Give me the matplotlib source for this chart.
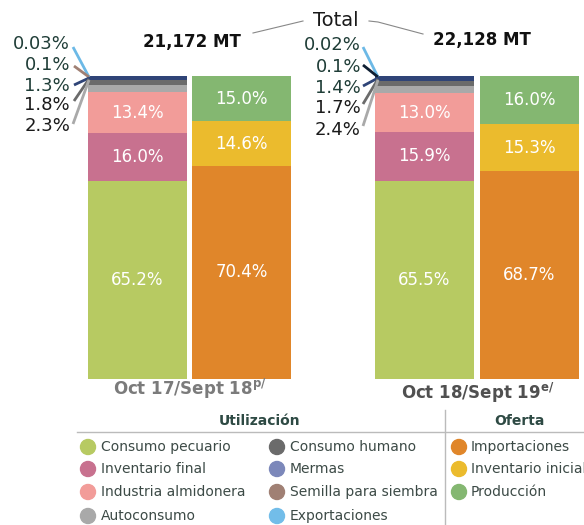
import matplotlib
matplotlib.use("Agg")
import matplotlib.pyplot as plt
from matplotlib.patches import Circle

plt.rcParams['font.family'] = ['DejaVu Sans']

# --- data -------------------------------------------------------------
periods = ["Oct 17/Sept 18", "Oct 18/Sept 19"]
period_marks = ["p/", "e/"]
totals = ["21,172 MT", "22,128 MT"]

use_names = ["Consumo pecuario", "Inventario final", "Industria almidonera",
             "Autoconsumo", "Consumo humano", "Mermas",
             "Semilla para siembra", "Exportaciones"]
use_1718 = [65.2, 16.0, 13.4, 2.3, 1.8, 1.3, 0.1, 0.03]
use_1819 = [65.5, 15.9, 13.0, 2.4, 1.7, 1.4, 0.1, 0.02]

supply_names = ["Importaciones", "Inventario inicial", "Producción"]
supply_1718 = [70.4, 14.6, 15.0]
supply_1819 = [68.7, 15.3, 16.0]

use_colors = ["#b7ca62", "#c8718f", "#f29c99", "#a9a9a9", "#6b6b6b",
              "#2f4477", "#a08074", "#6cb9e6"]
use_legend_colors = ["#b7ca62", "#c8718f", "#f29c99", "#a9a9a9", "#6b6b6b",
                     "#7c88ba", "#a08074", "#72bde9"]
supply_colors = ["#e0862a", "#ebbb2d", "#84b771"]

W, H = 584, 525
fig = plt.figure(figsize=(W / 100, H / 100), dpi=100)

# main axes: x in pixel units, y in percent; bars from y=379 (0%) to y=76 (100%)
y0_px, y1_px = 379, 76
ax = fig.add_axes([0, 1 - y0_px / H, 1, (y0_px - y1_px) / H])
ax.set_xlim(0, W)
ax.set_ylim(0, 100)
ax.axis("off")

bar_w = 99
use_x = [137.5, 424.5]
sup_x = [241.5, 529.5]

def pct(v):
    return f"{v:.1f}%"

for k, (uses, sups) in enumerate([(use_1718, supply_1718), (use_1819, supply_1819)]):
    bottom = 0
    for j, v in enumerate(uses):
        ax.bar(use_x[k], v, bottom=bottom, width=bar_w, color=use_colors[j],
               edgecolor="none")
        if j < 3:
            ax.text(use_x[k], bottom + v / 2, pct(v), ha="center", va="center",
                    color="white", fontsize=12)
        bottom += v
    bottom = 0
    for j, v in enumerate(sups):
        ax.bar(sup_x[k], v, bottom=bottom, width=bar_w, color=supply_colors[j],
               edgecolor="none")
        ax.text(sup_x[k], bottom + v / 2, pct(v), ha="center", va="center",
                color="white", fontsize=12)
        bottom += v

# --- overlay in pixel coordinates for annotations ---------------------
ov = fig.add_axes([0, 0, 1, 1])
ov.set_xlim(0, W)
ov.set_ylim(H, 0)
ov.axis("off")

# small-share labels with leader lines
small_idx = [7, 6, 5, 4, 3]  # Exportaciones .. Autoconsumo
label_cols = ["#1f3d37", "#1f3d37", "#1f3d37", "#1a1a1a", "#1a1a1a"]
line_cols_list = [
    ["#6cb9e6", "#a08074", "#2f4477", "#6b6b6b", "#a9a9a9"],
    ["#6cb9e6", "#0f1f33", "#2f4477", "#6b6b6b", "#a9a9a9"],
]
groups = [
    dict(vals=use_1718, tx=70, ty=[44, 65, 86, 105, 126], px=89, py=[77, 77, 78, 79, 80],
         lx=[73, 74, 74, 74, 73], ly=[47, 66, 85, 101, 124]),
    dict(vals=use_1819, tx=361, ty=[45, 67, 88, 108, 130], px=378, py=[77, 77, 78, 79, 80],
         lx=[363, 363, 363, 363, 363], ly=[47, 65, 86, 104, 126]),
]
for g, grp in enumerate(groups):
    for n, idx in enumerate(small_idx):
        v = grp["vals"][idx]
        txt = f"{v:.2f}%" if v < 0.1 else f"{v:.1f}%"
        ov.text(grp["tx"], grp["ty"][n], txt, ha="right", va="center",
                fontsize=13, color=label_cols[n])
        ov.plot([grp["lx"][n], grp["px"]], [grp["ly"][n], grp["py"][n]],
                color=line_cols_list[g][n], lw=2, solid_capstyle="butt")

# totals
ov.text(192, 42, totals[0], ha="center", va="center", fontsize=12,
        fontweight="bold", color="#111111")
ov.text(482, 40, totals[1], ha="center", va="center", fontsize=12,
        fontweight="bold", color="#111111")
ov.text(336, 20, "Total", ha="center", va="center", fontsize=14, color="#1a1a1a")
ov.plot([253, 303], [33, 21], color="#888888", lw=0.8)
ov.plot([369, 378, 423], [21, 22, 34], color="#888888", lw=0.8)

# period labels
ov.text(190, 389, periods[0] + r"$^{\mathregular{" + period_marks[0] + "}}$",
        ha="center", va="center", fontsize=12, fontweight="bold", color="#7b7b7b")
ov.text(478, 393, periods[1] + r"$^{\mathregular{" + period_marks[1] + "}}$",
        ha="center", va="center", fontsize=12, fontweight="bold", color="#505050")

# legend table
ov.plot([77, 584], [432, 432], color="#bbbbbb", lw=1)
ov.plot([445, 445], [410, 525], color="#bbbbbb", lw=1)
ov.text(260, 421, "Utilización", ha="center", va="center", fontsize=10,
        fontweight="bold", color="#2e4a44")
ov.text(519, 421, "Oferta", ha="center", va="center", fontsize=10,
        fontweight="bold", color="#2e4a44")

rows_y = [447, 469, 492, 516]
col_x = [88, 277]
order = [[0, 1, 2, 3], [4, 5, 6, 7]]
for c, idxs in enumerate(order):
    for r, idx in enumerate(idxs):
        ov.add_patch(Circle((col_x[c], rows_y[r]), 7.5, color=use_legend_colors[idx]))
        ov.text(col_x[c] + 13, rows_y[r], use_names[idx], ha="left", va="center",
                fontsize=10, color="#3c4a46")
for r, name in enumerate(supply_names):
    ov.add_patch(Circle((459, rows_y[r]), 7.5, color=supply_colors[r]))
    ov.text(471, rows_y[r], name, ha="left", va="center", fontsize=10,
            color="#3c4a46", clip_on=True)

fig.savefig("out.png", dpi=100)
